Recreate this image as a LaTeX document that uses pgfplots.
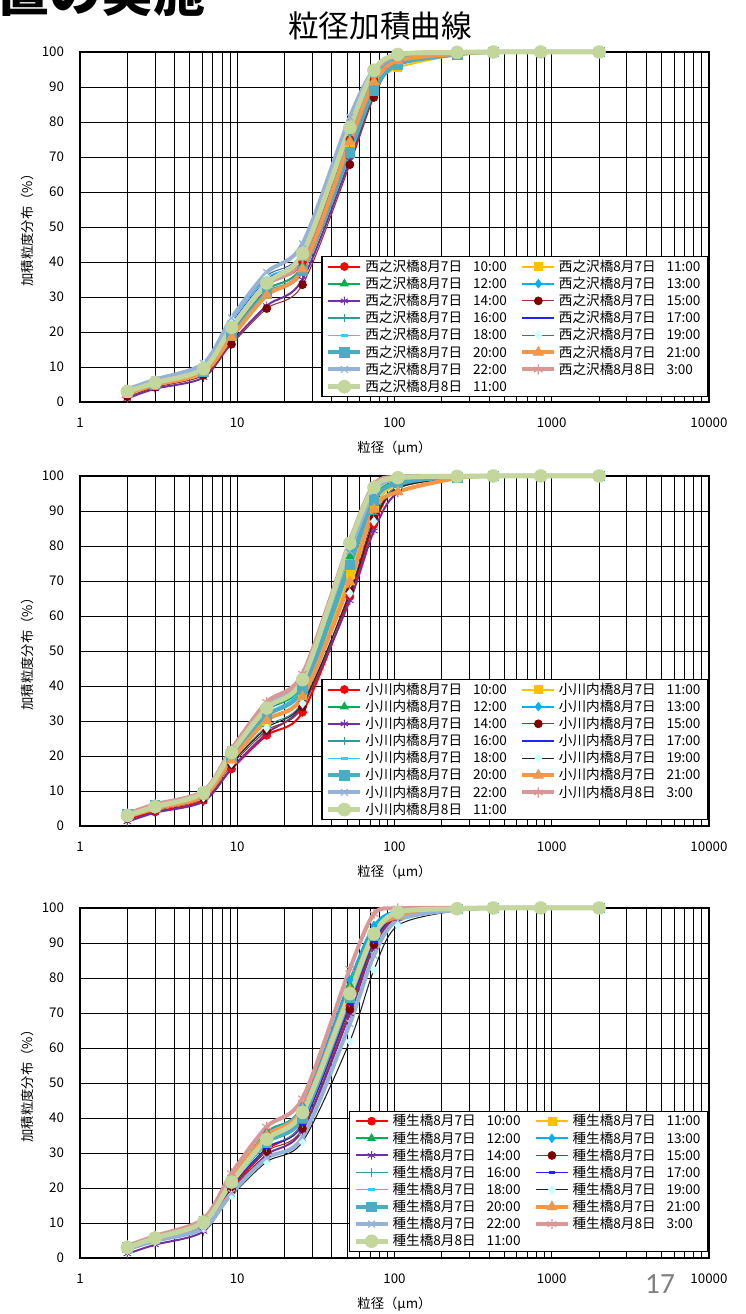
\documentclass[border=0pt]{standalone}
\usepackage{fontspec}
\setmainfont{Noto Sans CJK JP}
\newfontfamily\numfont{Carlito}
\usepackage{pgfplots}
\usepackage{pgfplotstable}
\pgfplotsset{compat=1.18}

\definecolor{c1}{HTML}{FF0000}
\definecolor{c2}{HTML}{FFC000}
\definecolor{c3}{HTML}{00B050}
\definecolor{c4}{HTML}{00B0F0}
\definecolor{c5}{HTML}{7030A0}
\definecolor{c6line}{HTML}{993333}
\definecolor{c6mark}{HTML}{800000}
\definecolor{c7}{HTML}{339999}
\definecolor{c8}{HTML}{2222FF}
\definecolor{c9}{HTML}{33CCFF}
\definecolor{c10mark}{HTML}{CCFFFF}
\definecolor{c10a}{HTML}{4A6A9F}
\definecolor{c10b}{HTML}{222222}
\definecolor{c11}{HTML}{4BACC6}
\definecolor{c12}{HTML}{F79646}
\definecolor{c13}{HTML}{95B3D7}
\definecolor{c14}{HTML}{D99795}
\definecolor{c15}{HTML}{C3D69B}

% 粒径 x (um) と各時刻の加積通過率
\pgfplotstableread{
x    s1   s2   s3   s4   s5   s6   s7   s8   s9   s10  s11  s12  s13  s14  s15
2    2.5  2.8  3    3.2  1    1.5  2.8  3.3  3.2  3.5  2.6  2.5  3.6  3    3
3    4.8  5.2  5.5  5.8  3.8  4.2  5.3  6    5.9  6.2  5    4.9  6.4  5.6  5.5
6.1  8.5  9    9.5  10   7    7.6  9.2  10.5 10.3 10.8 8.8  8.5  11   9.5  9.5
9.2  21   19   20   22   17   16.5 20   22.5 23   23.5 19   18.5 24   21   21.3
15.4 34   31   32   34   27.5 26.7 32   35   35.5 36   31   30.5 37   33.5 34
26   40   38   39   41   35   33.5 39   42.5 42   43   37.5 38   45.2 41   42.4
52   75   73   75   77   69   67.8 74   78   77   79   71.4 74.3 81.4 79   78.4
74   92   90   92   93   88   87   91   93.5 93   94   89   91.4 95   94   94.8
105  98   95.5 97.5 98   97   97.5 97.5 98.5 98.3 98.8 96.5 97.5 99.2 99   99.3
250  99.7 99.2 99.6 99.7 99.6 99.6 99.6 99.8 99.8 99.8 99.3 99.5 99.9 99.9 99.9
425  100  100  100  100  100  100  100  100  100  100  100  100  100  100  100
850  100  100  100  100  100  100  100  100  100  100  100  100  100  100  100
2000 100  100  100  100  100  100  100  100  100  100  100  100  100  100  100
}\tabA

\pgfplotstableread{
x    s1   s2   s3   s4   s5   s6   s7   s8   s9   s10  s11  s12  s13  s14  s15
2    2    2.8  3    3.1  1.2  2.2  2.5  3.2  3    2.5  3.3  2.6  3.4  3.5  3
3    4    5.2  5.6  5.7  3.8  4.5  4.8  5.8  5.6  4.9  5.9  5    6    6.2  5.5
6.1  7.3  8.6  9.4  9.6  7    7.8  8    9.8  9.4  8.2  9.5  8.5  9.8  10   9.5
9.2  16.3 19   20.5 21   16.5 17.5 18   21.5 20.5 18   19.5 18.8 21   22   21
15.4 25.9 30   33   33.5 26.5 27.3 28.5 33   32   28   31.5 30.2 34   35.4 33.7
26   32.5 37.5 40.5 41   34.5 34   35.5 41.5 40   35   39   36.9 42.5 43.5 41.8
52   65.5 72   77   79   64.4 67   69   79.5 76   66.5 74.6 69.7 78.5 81.5 80.8
74   86.2 91   94   95.5 84.3 88   89   96   93.5 87   93   90.5 95.5 97.5 96.7
105  97   97.5 98.5 99   95.2 96.5 97   99.2 98.5 96.5 98   95.5 99.2 99.8 99.5
250  99.6 99.6 99.7 99.8 99.4 99.6 99.6 99.8 99.7 99.5 99.7 99.4 99.9 100  99.9
425  100  100  100  100  100  100  100  100  100  100  100  100  100  100  100
850  100  100  100  100  100  100  100  100  100  100  100  100  100  100  100
2000 100  100  100  100  100  100  100  100  100  100  100  100  100  100  100
}\tabB

\pgfplotstableread{
x    s1   s2   s3   s4   s5   s6   s7   s8   s9   s10  s11  s12  s13  s14  s15
2    2.8  3    3.2  3.3  1.2  2.6  2.8  2.9  3.1  2.3  3    3.3  2.5  3.5  3
3    5.2  5.5  5.8  6    3.8  5    5.3  5.4  5.7  4.8  5.5  6    4.9  6.3  5.7
6.1  9.5  10   10.5 10.6 7.6  9    9.5  9.7  10.2 8.6  10   10.8 8.5  11.2 10.2
9.2  20   21.5 22.5 23   19   19.5 20.5 20.5 22   17.8 21.5 22.8 18.5 24.2 21.7
15.4 31   33.5 36   35.5 29.5 30.5 31.5 31.5 34.5 27.5 33   35   28.5 37.5 33.9
26   38.5 41   43   43.5 36.5 37   38.5 38   42   33.2 40   42.5 34.5 45.6 41.6
52   72   75.5 78   79.5 69.8 71   73   72.5 77   61.9 74.5 76.5 67   82.6 75.5
74   90   92.5 94   95   89   89.5 91   90.5 93.5 82.3 92   93   86.5 98.3 92.6
105  97.5 98.5 99   99.2 97   97.5 98   97.8 98.8 95   98.5 97.5 96.5 99.9 98.8
250  99.7 99.8 99.9 99.9 99.6 99.7 99.7 99.7 99.8 99.3 99.8 99.6 99.5 100  99.8
425  100  100  100  100  100  100  100  100  100  100  100  100  100  100  100
850  100  100  100  100  100  100  100  100  100  100  100  100  100  100  100
2000 100  100  100  100  100  100  100  100  100  100  100  100  100  100  100
}\tabC

\tikzset{
  p1/.style={smooth,c1,line width=1.5pt,mark=*,mark size=3pt,mark options={solid,line width=0.5pt}},
  p2/.style={smooth,c2,line width=1.5pt,mark=square*,mark size=3pt,mark options={solid,line width=0.5pt}},
  p3/.style={smooth,c3,line width=1.5pt,mark=triangle*,mark size=3.4pt,mark options={solid,line width=0.5pt}},
  p4/.style={smooth,c4,line width=1.5pt,mark=diamond*,mark size=3.2pt,mark options={solid,line width=0.5pt}},
  p5/.style={smooth,c5,line width=1.5pt,mark=asterisk,mark size=3.2pt,mark options={solid,line width=0.7pt}},
  p6/.style={smooth,c6line,line width=0.8pt,mark=*,mark size=3pt,mark options={solid,line width=0.5pt,draw=c6mark,fill=c6mark}},
  p7/.style={smooth,c7,line width=0.8pt,mark=+,mark size=3.2pt,mark options={solid,line width=0.8pt}},
  p8/.style={smooth,c8,line width=0.8pt,mark=-,mark size=2.4pt,mark options={solid,line width=2.2pt}},
  p9/.style={smooth,c9,line width=0.8pt,mark=-,mark size=2.4pt,mark options={solid,line width=2.2pt}},
  p10/.style={smooth,line width=0.8pt,mark=diamond*,mark size=3.4pt,mark options={solid,line width=0.5pt,draw=c10mark,fill=c10mark}},
  p11/.style={smooth,c11,line width=3pt,mark=square*,mark size=3.6pt,mark options={solid,line width=0.5pt}},
  p12/.style={smooth,c12,line width=3pt,mark=triangle*,mark size=4.4pt,mark options={solid,line width=0.5pt}},
  p13/.style={smooth,c13,line width=3pt,mark=x,mark size=3.6pt,mark options={solid,line width=0.9pt}},
  p14/.style={smooth,c14,line width=3pt,mark=asterisk,mark size=3.8pt,mark options={solid,line width=0.9pt}},
  p15/.style={smooth,c15,line width=3.6pt,mark=*,mark size=4.8pt,mark options={solid,line width=0.5pt}},
}

% common axis settings, set once for all three axes
\pgfplotsset{
  scale only axis,width=471.75pt,height=262.5pt,
  xmin=1,xmax=10000,ymin=0,ymax=100,
  xtick={1,10,100,1000,10000},xticklabels={1,10,100,1000,10000},
  minor xtick={2,3,4,5,6,7,8,9,20,30,40,50,60,70,80,90,200,300,400,500,600,700,800,900,2000,3000,4000,5000,6000,7000,8000,9000},
  ytick={0,10,20,30,40,50,60,70,80,90,100},
  grid=both,
  major grid style={black,line width=0.7pt},
  minor grid style={black,line width=0.7pt},
  axis line style={black,line width=1.4pt},
  tick style={draw=none},
  /pgf/number format/assume math mode=true,
  tick label style={font=\fontsize{10}{12}\selectfont},
  yticklabel style={xshift=-8.5pt},
  xticklabel style={yshift=-8.5pt},
  label style={font=\fontsize{10}{12}\selectfont},
  xlabel style={at={(axis description cs:0.5,-0.131)},anchor=center},
  ylabel style={at={(axis description cs:-0.0843,0.5)},anchor=center},
  clip=false,
  legend columns=2,legend cell align=left,
  legend style={anchor=south east,draw=black,line width=0.8pt,fill=white,
    font=\fontsize{10.2}{11}\selectfont,row sep=0pt,inner xsep=3pt,inner ysep=1pt,
    nodes={inner ysep=1.4pt,inner xsep=2pt},
    /tikz/every even column/.append style={column sep=8pt}},
  legend image code/.code={\draw[mark repeat=2,mark phase=2,#1] plot coordinates {(0pt,0pt) (12pt,0pt) (24pt,0pt)};},
}

\newcommand{\allseries}[3]{%
  \addplot[p1] table[x=x,y=s1]{#1}; \addlegendentry{#28月7日\hspace{0.8em}10:00}
  \addplot[p2] table[x=x,y=s2]{#1}; \addlegendentry{#28月7日\hspace{0.8em}11:00}
  \addplot[p3] table[x=x,y=s3]{#1}; \addlegendentry{#28月7日\hspace{0.8em}12:00}
  \addplot[p4] table[x=x,y=s4]{#1}; \addlegendentry{#28月7日\hspace{0.8em}13:00}
  \addplot[p5] table[x=x,y=s5]{#1}; \addlegendentry{#28月7日\hspace{0.8em}14:00}
  \addplot[p6] table[x=x,y=s6]{#1}; \addlegendentry{#28月7日\hspace{0.8em}15:00}
  \addplot[p7] table[x=x,y=s7]{#1}; \addlegendentry{#28月7日\hspace{0.8em}16:00}
  \addplot[p8] table[x=x,y=s8]{#1}; \addlegendentry{#28月7日\hspace{0.8em}17:00}
  \addplot[p9] table[x=x,y=s9]{#1}; \addlegendentry{#28月7日\hspace{0.8em}18:00}
  \addplot[p10,draw=#3] table[x=x,y=s10]{#1}; \addlegendentry{#28月7日\hspace{0.8em}19:00}
  \addplot[p11] table[x=x,y=s11]{#1}; \addlegendentry{#28月7日\hspace{0.8em}20:00}
  \addplot[p12] table[x=x,y=s12]{#1}; \addlegendentry{#28月7日\hspace{0.8em}21:00}
  \addplot[p13] table[x=x,y=s13]{#1}; \addlegendentry{#28月7日\hspace{0.8em}22:00}
  \addplot[p14] table[x=x,y=s14]{#1}; \addlegendentry{#28月8日\hspace{0.8em}3:00}
  \addplot[p15] table[x=x,y=s15]{#1}; \addlegendentry{#28月8日\hspace{0.8em}11:00}
}

\begin{document}
\begin{tikzpicture}
\node[anchor=base west,inner sep=0pt,font=\fontsize{39}{39}\selectfont\bfseries] at (-2pt,977pt) {置の実施};
\node[font=\fontsize{23}{25}\selectfont] at (285pt,966pt) {粒径加積曲線};

\begin{semilogxaxis}[at={(60pt,684pt)},anchor=south west,
  xlabel={粒径（μm）},ylabel={加積粒度分布（\%）},
  legend style={at={(0.998,0.014)}}]
\allseries{\tabA}{西之沢橋}{c10a}
\end{semilogxaxis}

\begin{semilogxaxis}[at={(60pt,366pt)},anchor=south west,
  xlabel={粒径（μm）},ylabel={加積粒度分布（\%）},
  legend style={at={(0.998,0.017)}}]
\allseries{\tabB}{小川内橋}{c10b}
\end{semilogxaxis}

\begin{semilogxaxis}[at={(60pt,42pt)},anchor=south west,
  xlabel={粒径（μm）},ylabel={加積粒度分布（\%）},
  legend style={at={(0.998,0.018)}}]
\allseries{\tabC}{種生橋}{c10b}
\end{semilogxaxis}

\node[font=\numfont\fontsize{22}{22}\selectfont,text=black!50] at (495pt,22.5pt) {17};

\pgfresetboundingbox
\useasboundingbox (0,0) rectangle (559.5pt,985.5pt);
\end{tikzpicture}
\end{document}
